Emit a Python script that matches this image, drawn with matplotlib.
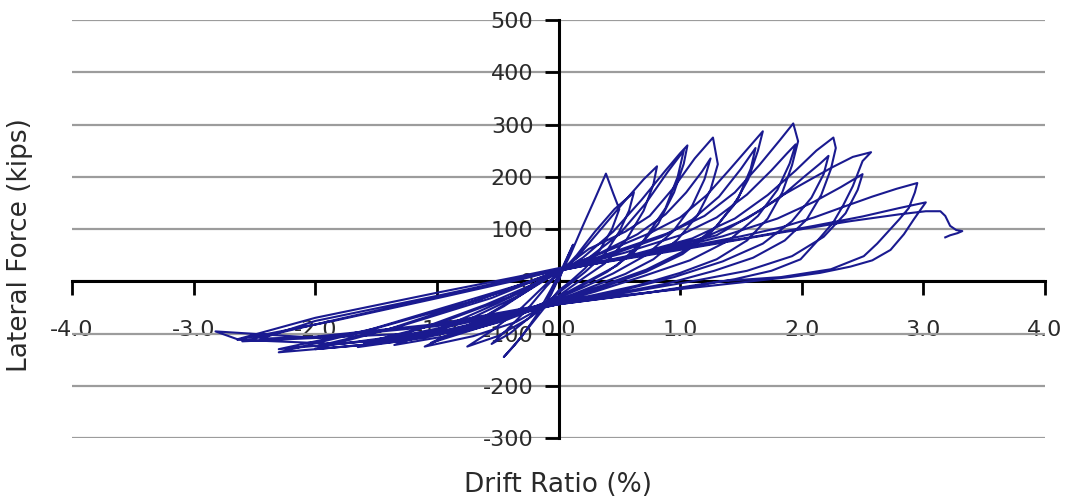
import matplotlib
matplotlib.use("Agg")
import matplotlib.pyplot as plt
import numpy as np

plt.rcParams['font.family'] = ['DejaVu Sans']
plt.rcParams['axes.unicode_minus'] = False

# ---- data: hysteresis cycles (drift %, lateral force kips)
cA_drift = [0, 0.06, 0.12, 0.06, 0.0, -0.06, -0.12, -0.06, 0.0]
cA_force = [0, 38, 70, 40, 10, -22, -50, -25, 5]

c1_drift = [0.10, 0.20, 0.30, 0.39, 0.45, 0.50, 0.44, 0.34, 0.22, 0.10, 0.0, -0.12, -0.25, -0.36, -0.45, -0.40, -0.30, -0.18, -0.06, 0.0]
c1_force = [52, 106, 158, 206, 168, 138, 100, 60, 25, 0, -18, -52, -90, -122, -145, -132, -105, -65, -15, 12]

c2_drift = [0.15, 0.30, 0.46, 0.62, 0.58, 0.50, 0.38, 0.22, 0.08, 0.0, -0.20, -0.40, -0.55, -0.42, -0.25, -0.10, 0.0]
c2_force = [50, 95, 138, 170, 135, 95, 52, 18, -8, -22, -62, -100, -120, -92, -52, -10, 15]

c3_drift = [0.15, 0.35, 0.55, 0.70, 0.81, 0.78, 0.70, 0.56, 0.38, 0.18, 0.0, -0.25, -0.50, -0.75, -0.55, -0.30, -0.10, 0.0]
c3_force = [45, 100, 155, 195, 220, 185, 135, 80, 34, 2, -28, -72, -105, -125, -95, -50, -5, 16]

c4_drift = [0.20, 0.45, 0.68, 0.88, 1.00, 1.06, 1.03, 0.95, 0.82, 0.62, 0.40, 0.18, 0.0, -0.35, -0.70, -1.10, -0.80, -0.45, -0.15, 0.0]
c4_force = [45, 95, 155, 212, 245, 260, 225, 170, 110, 55, 18, -10, -32, -78, -105, -125, -92, -48, -2, 18]

c5_drift = [0.25, 0.50, 0.72, 0.90, 1.03, 0.98, 0.88, 0.70, 0.48, 0.24, 0.0, -0.50, -1.05, -0.70, -0.30, 0.0]
c5_force = [45, 90, 150, 210, 250, 200, 140, 78, 30, 0, -30, -78, -118, -80, -25, 18]

c6_drift = [0.25, 0.55, 0.75, 0.95, 1.12, 1.27, 1.31, 1.25, 1.14, 0.98, 0.78, 0.55, 0.28, 0.0, -0.45, -0.90, -1.35, -0.95, -0.50, -0.15, 0.0]
c6_force = [62, 95, 125, 180, 235, 275, 224, 175, 125, 80, 42, 14, -10, -36, -76, -104, -122, -88, -42, -2, 20]

c7_drift = [0.35, 0.65, 0.88, 1.05, 1.18, 1.25, 1.20, 1.10, 0.94, 0.72, 0.45, 0.20, 0.0, -0.60, -1.30, -0.80, -0.35, 0.0]
c7_force = [55, 90, 128, 170, 210, 235, 195, 145, 95, 50, 15, -12, -32, -82, -115, -80, -30, 20]

c8_drift = [0.40, 0.75, 1.00, 1.22, 1.40, 1.56, 1.68, 1.64, 1.56, 1.44, 1.26, 1.02, 0.72, 0.38, 0.0, -0.55, -1.10, -1.65, -1.15, -0.60, -0.20, 0.0]
c8_force = [58, 92, 122, 165, 212, 255, 287, 250, 195, 145, 95, 52, 18, -10, -38, -80, -108, -126, -92, -45, -5, 20]

c9_drift = [0.45, 0.85, 1.10, 1.32, 1.50, 1.62, 1.58, 1.48, 1.30, 1.05, 0.72, 0.36, 0.0, -0.80, -1.60, -1.00, -0.40, 0.0]
c9_force = [52, 85, 118, 162, 215, 255, 215, 160, 105, 60, 22, -8, -36, -95, -118, -82, -30, 20]

c10_drift = [0.50, 0.90, 1.20, 1.45, 1.65, 1.82, 1.93, 1.97, 1.92, 1.84, 1.72, 1.55, 1.30, 1.00, 0.65, 0.30, 0.0, -0.65, -1.30, -2.00, -1.40, -0.75, -0.25, 0.0]
c10_force = [60, 92, 125, 170, 222, 270, 302, 268, 222, 170, 120, 78, 42, 16, -8, -26, -40, -86, -115, -130, -92, -42, -3, 20]

c11_drift = [0.55, 1.00, 1.30, 1.55, 1.75, 1.88, 1.95, 1.90, 1.80, 1.64, 1.40, 1.08, 0.70, 0.30, 0.0, -1.00, -2.00, -1.30, -0.55, 0.0]
c11_force = [55, 88, 122, 166, 212, 245, 262, 225, 175, 125, 78, 40, 10, -20, -40, -100, -125, -86, -32, 20]

c12_drift = [0.60, 1.10, 1.45, 1.72, 1.95, 2.12, 2.26, 2.28, 2.24, 2.16, 2.04, 1.86, 1.60, 1.28, 0.90, 0.45, 0.0, -0.80, -1.60, -2.30, -1.60, -0.85, -0.25, 0.0]
c12_force = [50, 82, 120, 165, 212, 250, 275, 255, 215, 165, 118, 78, 45, 20, -4, -24, -42, -92, -122, -136, -96, -44, -2, 20]

c13_drift = [0.65, 1.20, 1.55, 1.82, 2.02, 2.15, 2.22, 2.18, 2.08, 1.92, 1.68, 1.35, 0.95, 0.48, 0.0, -1.10, -2.30, -1.50, -0.65, 0.0]
c13_force = [50, 84, 120, 160, 200, 225, 240, 205, 160, 115, 72, 38, 8, -20, -42, -105, -130, -90, -35, 20]

c14_drift = [0.70, 1.30, 1.65, 1.83, 2.05, 2.25, 2.42, 2.57, 2.50, 2.42, 2.34, 2.26, 2.12, 1.99, 1.75, 1.45, 1.05, 0.55, 0.0, -0.90, -1.80, -2.64, -1.85, -0.95, -0.30, 0.0]
c14_force = [52, 88, 135, 163, 192, 218, 238, 247, 230, 182, 145, 113, 75, 42, 20, 4, -12, -28, -44, -92, -120, -112, -76, -30, 4, 22]

c15_drift = [0.75, 1.35, 1.80, 2.10, 2.32, 2.45, 2.50, 2.46, 2.36, 2.18, 1.92, 1.55, 1.10, 0.55, 0.0, -1.20, -2.60, -1.80, -0.80, 0.0]
c15_force = [52, 86, 120, 152, 180, 198, 205, 175, 130, 85, 48, 20, 0, -22, -44, -100, -115, -72, -20, 22]

c16_drift = [0.80, 1.50, 1.83, 2.10, 2.35, 2.58, 2.78, 2.92, 2.95, 2.93, 2.88, 2.80, 2.73, 2.62, 2.51, 2.24, 1.83, 1.33, 0.76, 0.0, -1.00, -2.00, -2.82, -2.64, -2.00, -1.00, -0.35, 0.0]
c16_force = [55, 86, 103, 122, 143, 162, 177, 186, 188, 170, 140, 118, 100, 72, 48, 23, 8, 0, -21, -44, -86, -108, -96, -111, -70, -22, 8, 25]

c17_drift = [1.00, 1.60, 2.10, 2.50, 2.80, 3.02, 2.98, 2.92, 2.84, 2.73, 2.58, 2.40, 2.15, 1.90, 1.20, 0.0, -1.00, -2.00, -2.45, -2.00, -1.00, 0.0]
c17_force = [62, 85, 106, 124, 140, 151, 138, 118, 90, 60, 40, 28, 16, 8, -10, -40, -82, -106, -110, -76, -28, 22]

c18_drift = [1.00, 1.80, 2.40, 2.80, 3.02, 3.14, 3.18, 3.22, 3.27, 3.32, 3.28, 3.22, 3.18]
c18_force = [60, 92, 115, 128, 134, 134, 125, 106, 98, 96, 92, 88, 84]

x_ticks = [-4.0, -3.0, -2.0, -1.0, 0.0, 1.0, 2.0, 3.0, 4.0]
y_ticks = [-300, -200, -100, 0, 100, 200, 300, 400, 500]
x_label = "Drift Ratio (%)"
y_label = "Lateral Force (kips)"

drift_parts = [cA_drift, c1_drift, c2_drift, c3_drift, c4_drift, c5_drift, c6_drift, c7_drift, c8_drift,
               c9_drift, c10_drift, c11_drift, c12_drift, c13_drift, c14_drift, c15_drift, c16_drift,
               c17_drift, c18_drift]
force_parts = [cA_force, c1_force, c2_force, c3_force, c4_force, c5_force, c6_force, c7_force, c8_force,
               c9_force, c10_force, c11_force, c12_force, c13_force, c14_force, c15_force, c16_force,
               c17_force, c18_force]
drift = np.concatenate(drift_parts)
force = np.concatenate(force_parts)

W, H = 1066, 498
fig = plt.figure(figsize=(W / 100, H / 100), dpi=100)
ax = fig.add_axes([72 / W, 1 - 438 / H, (1045 - 72) / W, (438 - 20) / H])
ax.set_xlim(x_ticks[0], x_ticks[-1])
ax.set_ylim(y_ticks[0], y_ticks[-1])

ax.plot(drift, force, color='#1a1a90', lw=1.5, zorder=4, solid_joinstyle='round')

for s in ['top', 'right']:
    ax.spines[s].set_visible(False)
ax.spines['left'].set_position(('data', 0))
ax.spines['bottom'].set_position(('data', 0))
for s in ['left', 'bottom']:
    ax.spines[s].set_linewidth(2.2)
    ax.spines[s].set_color('black')
    ax.spines[s].set_zorder(3)

ax.set_xticks(x_ticks)
ax.set_xticklabels([f"{v:.1f}" for v in x_ticks])
ax.set_yticks(y_ticks)
ax.set_yticklabels([f"{v:d}" for v in y_ticks])
ax.tick_params(axis='y', direction='out', length=10, width=2, pad=8, labelsize=16, colors='black', labelcolor='#2a2a2a')
ax.tick_params(axis='x', direction='out', length=10, width=2, pad=18, labelsize=16, colors='black', labelcolor='#2a2a2a')

ax.yaxis.grid(True, color='#9c9c9c', lw=1.6, zorder=1)
ax.xaxis.grid(False)
ax.set_axisbelow(True)

fig.text(20 / W, 1 - 245 / H, y_label, rotation=90, ha='center', va='center', fontsize=19, color='#2a2a2a')
fig.text(558 / W, 1 - 485 / H, x_label, ha='center', va='center', fontsize=19, color='#2a2a2a')

fig.savefig("out.png", dpi=100, facecolor='white')
